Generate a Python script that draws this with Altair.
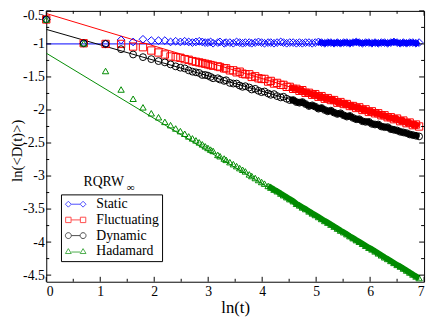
import altair as alt
import pandas as pd
import numpy as np

# ---------------- data ----------------
T = [1, 2, 3, 4, 5, 6, 7, 8, 9, 10, 11, 12, 13, 14, 15, 16, 17, 18, 19, 20, 21, 22,
     24, 25, 27, 28, 30, 32, 34, 36, 38, 40, 43, 45, 48, 51, 54, 57, 61, 64, 68, 72,
     77, 81, 86, 91, 97, 103, 109, 115, 122, 130, 138, 146, 155, 164, 174, 184, 195,
     207, 220, 233, 247, 262, 277, 294, 312, 330, 350, 371, 394, 417, 442, 469, 497,
     527, 558, 592, 627, 665, 705, 747, 792, 840, 890, 944, 1000]

static = [-0.63, -0.99, -1.00, -0.94, -0.97, -0.93, -0.95, -0.95, -0.95, -0.97, -0.96,
          -0.97, -0.96, -0.97, -0.98, -0.97, -0.96, -0.97, -0.98, -0.98, -0.97, -0.99,
          -0.98, -0.97, -0.99, -0.98, -0.98,
          -0.99, -0.97, -0.98, -0.99, -0.98,
          -0.98, -0.99, -0.98, -0.97, -0.98,
          -0.99, -0.98, -0.98, -0.99, -0.98,
          -0.97, -0.98, -0.99, -0.98, -0.98,
          -0.99, -0.98, -0.99, -0.98, -0.98,
          -0.99, -0.98, -0.97, -0.98, -0.99,
          -0.98, -0.98, -0.99, -0.98, -0.99,
          -0.98, -0.98, -0.99, -0.98, -0.97,
          -0.98, -0.99, -0.98, -0.98, -0.99,
          -0.98, -0.99, -0.98, -0.98, -0.99,
          -0.98, -0.97, -0.98, -0.99, -0.98,
          -0.99, -0.98, -0.98, -0.99, -0.98]

fluctuating = [-0.63, -0.99, -1.00, -1.00, -1.04, -1.05, -1.10, -1.13, -1.16, -1.19, -1.20,
               -1.21, -1.23, -1.24, -1.26, -1.27, -1.28, -1.29, -1.30, -1.31, -1.32, -1.33,
               -1.34, -1.35, -1.37, -1.37, -1.40,
               -1.40, -1.43, -1.42, -1.45, -1.46,
               -1.46, -1.50, -1.49, -1.52, -1.53,
               -1.53, -1.57, -1.56, -1.60, -1.59,
               -1.62, -1.62, -1.65, -1.65, -1.68,
               -1.68, -1.71, -1.70, -1.74, -1.74,
               -1.77, -1.76, -1.80, -1.79, -1.83,
               -1.82, -1.85, -1.85, -1.89, -1.88,
               -1.91, -1.91, -1.94, -1.94, -1.97,
               -1.96, -2.00, -1.99, -2.03, -2.02,
               -2.05, -2.05, -2.08, -2.08, -2.11,
               -2.11, -2.14, -2.13, -2.17, -2.16,
               -2.20, -2.19, -2.23, -2.22, -2.25]

dynamic = [-0.63, -0.99, -1.00, -1.08, -1.16, -1.20, -1.23, -1.26, -1.28, -1.31, -1.34,
           -1.36, -1.37, -1.40, -1.42, -1.43, -1.44, -1.47, -1.47, -1.48, -1.50, -1.52,
           -1.52, -1.54, -1.56, -1.55, -1.59,
           -1.60, -1.60, -1.63, -1.65, -1.64,
           -1.66, -1.69, -1.68, -1.71, -1.73,
           -1.72, -1.75, -1.77, -1.76, -1.79,
           -1.81, -1.80, -1.83, -1.85, -1.85,
           -1.88, -1.89, -1.88, -1.91, -1.94,
           -1.93, -1.95, -1.98, -1.97, -2.00,
           -2.02, -2.01, -2.04, -2.06, -2.05,
           -2.08, -2.10, -2.09, -2.12, -2.14,
           -2.14, -2.17, -2.18, -2.18, -2.21,
           -2.22, -2.22, -2.25, -2.26, -2.26,
           -2.29, -2.30, -2.31, -2.33, -2.34,
           -2.35, -2.37, -2.38, -2.39, -2.40]

hadamard = [-0.63, -0.99, -1.41, -1.69, -1.83, -1.96, -2.05, -2.11, -2.18, -2.23, -2.28,
            -2.32, -2.36, -2.40, -2.43, -2.46, -2.49, -2.52, -2.55, -2.575, -2.60, -2.62,
            -2.68, -2.70, -2.735, -2.755, -2.79,
            -2.82, -2.85, -2.88, -2.905, -2.93,
            -2.975, -3.00, -3.03, -3.06, -3.09,
            -3.115, -3.15, -3.175, -3.205, -3.23,
            -3.265, -3.29, -3.32, -3.35, -3.38,
            -3.42, -3.445, -3.475, -3.50, -3.535,
            -3.565, -3.59, -3.62, -3.65, -3.68,
            -3.705, -3.735, -3.765, -3.795, -3.825,
            -3.85, -3.88, -3.91, -3.94, -3.97,
            -3.995, -4.025, -4.055, -4.085, -4.11,
            -4.14, -4.17, -4.20, -4.23, -4.255,
            -4.285, -4.315, -4.345, -4.37, -4.40,
            -4.43, -4.46, -4.49, -4.52, -4.545]

# fitted lines (end points)
fit_x = [0.0, 6.908]
fit_static = [-1.00, -1.00]
fit_fluctuating = [-0.54, -2.24]
fit_dynamic = [-0.78, -2.40]
fit_hadamard = [-1.14, -4.555]

SERIES = ["Static", "Fluctuating", "Dynamic", "Hadamard"]
COLORS = ["#0000ff", "#ff0000", "#000000", "#008b00"]
SHAPES = ["diamond", "square", "circle", "triangle-up"]
SIZES = [62, 42, 48, 62]
BAND_FROM_T = [150, 90, 90, 60]   # where the markers merge into a solid band
LEGEND_PATHS = [
    "M-0.9,0L0.9,0M-2.1,0L-1.5,-0.6L-0.9,0L-1.5,0.6ZM0.9,0L1.5,-0.6L2.1,0L1.5,0.6Z",
    "M-0.95,0L0.95,0M-2.05,-0.55L-0.95,-0.55L-0.95,0.55L-2.05,0.55ZM0.95,-0.55L2.05,-0.55L2.05,0.55L0.95,0.55Z",
    "M-0.9,0L0.9,0M-0.9,0A0.6,0.6,0,1,0,-2.1,0A0.6,0.6,0,1,0,-0.9,0ZM2.1,0A0.6,0.6,0,1,0,0.9,0A0.6,0.6,0,1,0,2.1,0Z",
    "M-0.9,0.15L0.9,0.15M-1.5,-0.55L-0.9,0.45L-2.1,0.45ZM1.5,-0.55L2.1,0.45L0.9,0.45Z",
]

X_MAJOR = [0, 1, 2, 3, 4, 5, 6, 7]
X_MINOR = [0.5, 1.5, 2.5, 3.5, 4.5, 5.5, 6.5]
Y_MAJOR = [-4.5, -4.0, -3.5, -3.0, -2.5, -2.0, -1.5, -1.0, -0.5]
Y_MINOR = [-4.25, -3.75, -3.25, -2.75, -2.25, -1.75, -1.25, -0.75]

LEGEND_TITLE = "RQRW"
LEGEND_SUB = "\u221e"

# ---------------- build tables ----------------
vals = [static, fluctuating, dynamic, hadamard]
rows = []
for name, ys_ in zip(SERIES, vals):
    for t, v in zip(T, ys_):
        rows.append({"series": name, "t": t, "x": float(np.log(t)), "y": v})
pts = pd.DataFrame(rows)

band_rows = []
for name, ys_, t0 in zip(SERIES, vals, BAND_FROM_T):
    for t, v in zip(T, ys_):
        if t >= t0:
            band_rows.append({"series": name, "x": float(np.log(t)), "y": v})
band_df = pd.DataFrame(band_rows)

fits = [fit_static, fit_fluctuating, fit_dynamic, fit_hadamard]
frows = []
for name, fy in zip(SERIES, fits):
    for fx, v in zip(fit_x, fy):
        frows.append({"series": name, "x": fx, "y": v})
fit_df = pd.DataFrame(frows)

# ---------------- styling ----------------
W, H = 385, 276
FONT = "Liberation Serif"
xs = alt.Scale(domain=[0, 7], nice=False, zero=False)
ys = alt.Scale(domain=[-4.6, -0.5], nice=False, zero=False)

xaxis = alt.Axis(values=X_MAJOR, format="~g", ticks=False, domain=False, grid=False,
                 labelFont=FONT, labelFontSize=14, labelColor="black", labelPadding=3,
                 title="ln(t)", titleFont=FONT, titleFontSize=17, titleFontWeight="normal",
                 titleColor="black", titlePadding=1)
yaxis = alt.Axis(values=Y_MAJOR,
                 labelExpr="(datum.value < 0 ? '-' : '') + format(abs(datum.value), '~g')",
                 ticks=False, domain=False, grid=False, labelFlush=True, labelFlushOffset=2,
                 labelFont=FONT, labelFontSize=14, labelColor="black", labelPadding=2,
                 title="ln(<D(t)>)", titleFont=FONT, titleFontSize=15, titleFontWeight="normal",
                 titleColor="black", titleAngle=270, titleAlign="center",
                 titleBaseline="alphabetic", titleX=-25, titleY=142)

X = lambda: alt.X("x:Q", scale=xs, axis=xaxis)
Y = lambda: alt.Y("y:Q", scale=ys, axis=yaxis)

color_scale = lambda: alt.Scale(domain=SERIES, range=COLORS)

lines = alt.Chart(fit_df).mark_line(strokeWidth=1, clip=True).encode(
    x=X(), y=Y(), detail="series:N",
    color=alt.Color("series:N", scale=color_scale(), legend=None),
)

bands = alt.Chart(band_df).mark_line(strokeWidth=6, clip=True).encode(
    x=X(), y=Y(), detail="series:N",
    color=alt.Color("series:N", scale=color_scale(), legend=None),
)

points = alt.Chart(pts).mark_point(filled=False, strokeWidth=1, opacity=1).encode(
    x=X(), y=Y(),
    color=alt.Color("series:N", scale=color_scale(), legend=None),
    shape=alt.Shape("series:N", scale=alt.Scale(domain=SERIES, range=SHAPES), legend=None),
    size=alt.Size("series:N", scale=alt.Scale(domain=SERIES, range=SIZES), legend=None),
)

leg_common = dict(orient="none", legendX=15, legendY=187, title=None,
                  strokeColor="black", fillColor="white", padding=3, cornerRadius=0,
                  symbolSize=100, symbolStrokeWidth=1, labelFont=FONT, labelFontSize=14,
                  labelColor="black", labelOffset=14, symbolOffset=5, rowPadding=2)

legend_layer = alt.Chart(pts).mark_point(filled=False, strokeWidth=1).encode(
    x=X(), y=Y(),
    color=alt.Color("series:N", scale=color_scale(), legend=alt.Legend(**leg_common)),
    shape=alt.Shape("series:N", scale=alt.Scale(domain=SERIES, range=LEGEND_PATHS),
                    legend=alt.Legend(**leg_common)),
).transform_filter("false")

one = pd.DataFrame({"a": [0]})
title_main = alt.Chart(one).mark_text(text=LEGEND_TITLE, font=FONT, fontSize=14, align="left",
                                      baseline="middle", color="black").encode(
    x=alt.value(38), y=alt.value(174))
title_sub = alt.Chart(one).mark_text(text=LEGEND_SUB, font=FONT, fontSize=11, align="left",
                                     baseline="middle", color="black").encode(
    x=alt.value(82), y=alt.value(181))

def xtick_layer(values, length, top):
    df = pd.DataFrame({"x": values})
    y0, y1 = (0, length) if top else (H, H - length)
    return alt.Chart(df).mark_rule(color="black", strokeWidth=1).encode(
        x=X(), y=alt.value(y0), y2=alt.value(y1))

def ytick_layer(values, length, right):
    df = pd.DataFrame({"y": values})
    x0, x1 = (W, W - length) if right else (0, length)
    return alt.Chart(df).mark_rule(color="black", strokeWidth=1).encode(
        y=Y(), x=alt.value(x0), x2=alt.value(x1))

ticks = [
    xtick_layer(X_MAJOR, 5, False), xtick_layer(X_MAJOR, 5, True),
    xtick_layer(X_MINOR, 3, False), xtick_layer(X_MINOR, 3, True),
    ytick_layer(Y_MAJOR, 5, False), ytick_layer(Y_MAJOR, 5, True),
    ytick_layer(Y_MINOR, 3, False), ytick_layer(Y_MINOR, 3, True),
]

chart = alt.layer(
    lines, bands, points, legend_layer, title_main, title_sub, *ticks
).resolve_scale(
    color="independent", shape="independent", size="independent"
).properties(
    width=W, height=H,
    autosize=alt.AutoSizeParams(type="none"),
    padding={"left": 39, "top": 0, "right": 4, "bottom": 33},
    background="white",
).configure(font=FONT).configure_view(stroke="black", strokeWidth=1)

chart.save("out.html", embed_options={"renderer": "svg", "actions": False})
